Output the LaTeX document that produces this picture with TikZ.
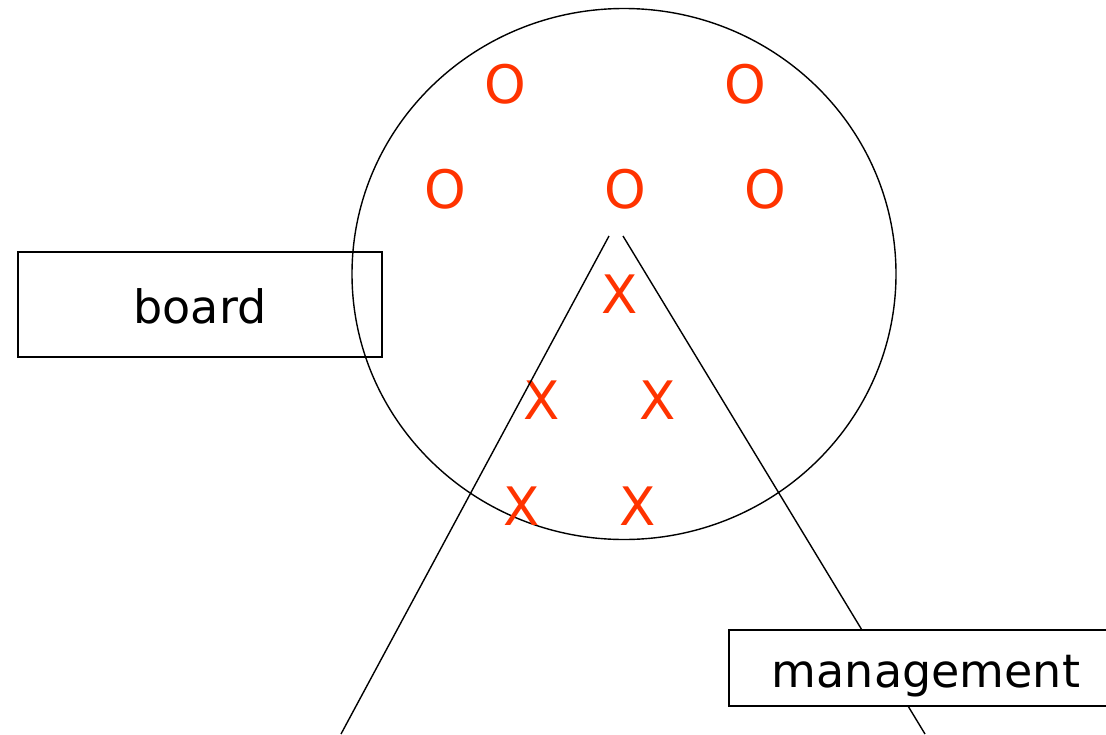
\documentclass[tikz,border=0pt]{standalone}
\usepackage{fontspec}
\setmainfont{DejaVu Sans}
\usetikzlibrary{shapes.geometric}
\definecolor{mark}{HTML}{FF3300}
\begin{document}
\begin{tikzpicture}[x=1pt,y=-1pt,
  line width=1.4pt,
  labelbox/.style={draw=black, rectangle, inner sep=0pt,
    font=\fontsize{46}{55}\selectfont, text height=42pt, text depth=4pt},
  member/.style={text=mark, font=\fontsize{53}{60}\selectfont, inner sep=0pt}]
\useasboundingbox (0,0) rectangle (1106,734);
% circle
\node (circ) [draw, ellipse, minimum width=544pt, minimum height=531pt, inner sep=0pt] at (624,274) {};
% board box
\node (board) [labelbox, minimum width=364pt, minimum height=105pt] at (200,304.5) {board};
% members
\node (o1) [member] at (505,84) {O};
\node (o2) [member] at (745,84) {O};
\node (o3) [member] at (445,189) {O};
\node (o4) [member] at (625,189) {O};
\node (o5) [member] at (765,189) {O};
\node (x1) [member] at (620,294) {X};
\node (x2) [member] at (542,400) {X};
\node (x3) [member] at (658,400) {X};
\node (x4) [member] at (522,506) {X};
\node (x5) [member] at (638,506) {X};
% triangle lines
\coordinate (ltop) at (609,236);
\coordinate (lbot) at (341,734);
\coordinate (rtop) at (623,236);
\coordinate (rbot) at (925,734);
\draw (ltop) -- (lbot);
\draw (rtop) -- (rbot);
% management box
\node (mgmt) [labelbox, fill=white, minimum width=394pt, minimum height=76pt] at (926,668) {management};
\end{tikzpicture}
\end{document}
